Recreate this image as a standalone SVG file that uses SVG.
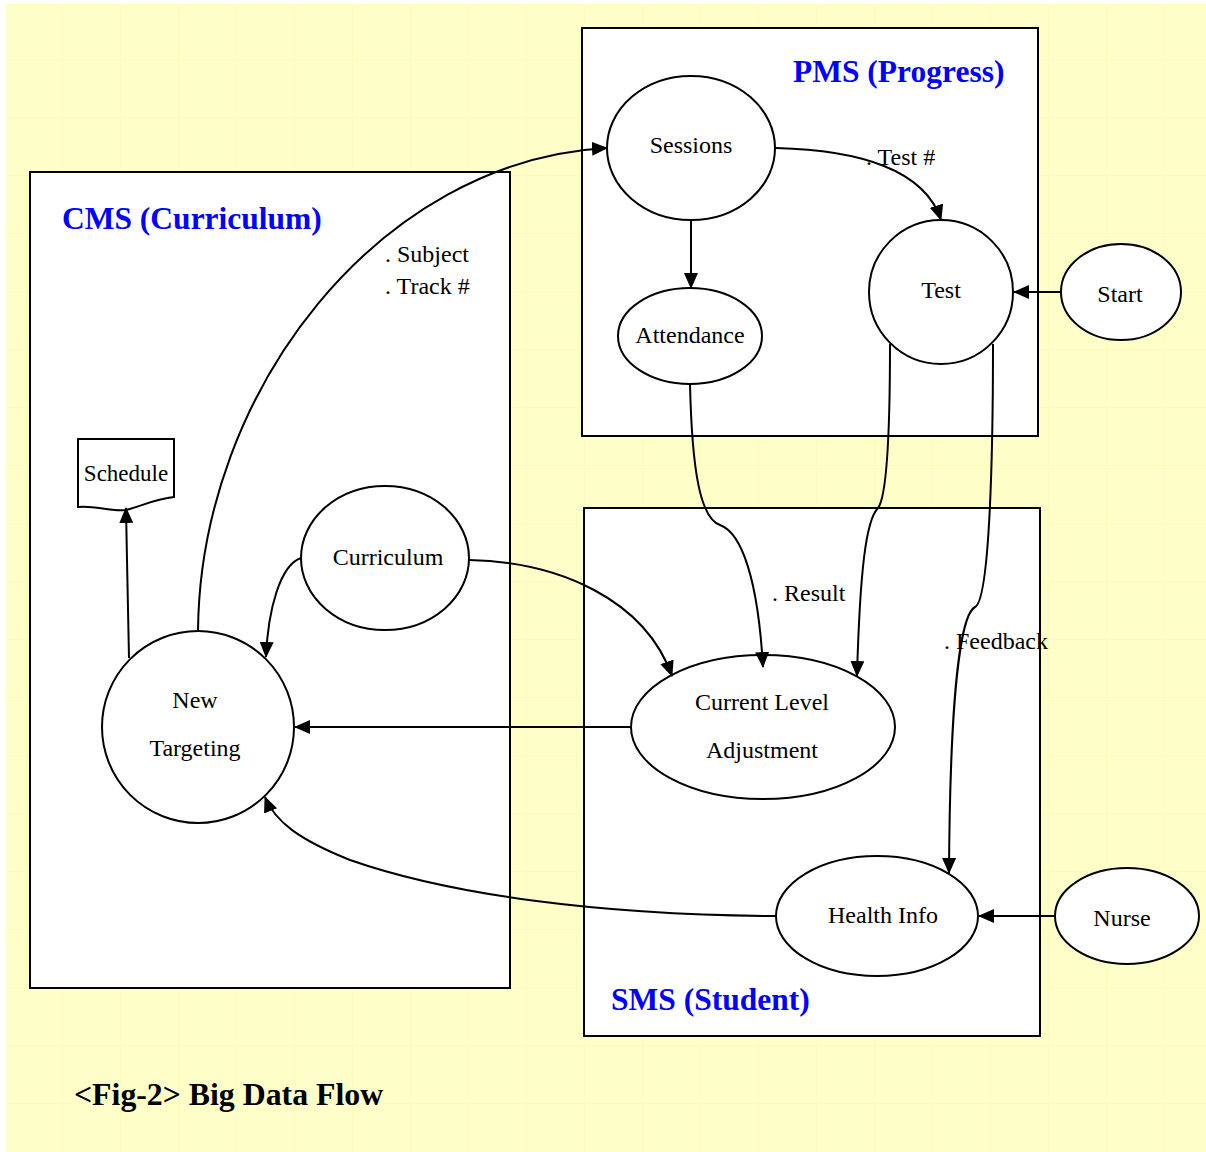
<svg xmlns="http://www.w3.org/2000/svg" width="1206" height="1152" viewBox="0 0 1206 1152">
<style>
.box{fill:#fff;stroke:#000;stroke-width:2}
.nd{fill:#fff;stroke:#000;stroke-width:2}
.t{font-family:"Liberation Serif",serif;font-size:24px;fill:#000;text-anchor:middle}
.lb{font-family:"Liberation Serif",serif;font-size:24px;fill:#000}
.title{font-family:"Liberation Serif",serif;font-size:31.5px;font-weight:bold;fill:#0000ff}
.cap{font-family:"Liberation Serif",serif;font-size:31.8px;font-weight:bold;fill:#000}
.c{fill:none;stroke:#000;stroke-width:2;marker-end:url(#ah)}
</style>
<defs>
<pattern id="grid" width="58" height="58" patternUnits="userSpaceOnUse" x="5" y="2">
<rect width="58" height="58" fill="#fefec9"/>
<path d="M58,0 V58 M0,58 H58" stroke="#fafab0" stroke-width="1" fill="none"/>
</pattern>
<marker id="ah" markerWidth="16" markerHeight="14" refX="15" refY="7" orient="auto" markerUnits="userSpaceOnUse">
<path d="M0,0 L16,7 L0,14 Z" fill="#000"/>
</marker>
</defs>
<rect width="1206" height="1152" fill="#fff"/>
<rect x="6" y="4" width="1200" height="1148" fill="url(#grid)"/>

<g id="cms-box"><rect class="box" x="30" y="172" width="480" height="816"/>
<text class="title" x="62" y="229">CMS (Curriculum)</text></g>
<g id="pms-box"><rect class="box" x="582" y="28" width="456" height="408"/>
<text class="title" x="793" y="82">PMS (Progress)</text></g>
<g id="sms-box"><rect class="box" x="584" y="508" width="456" height="528"/>
<text class="title" x="611" y="1010">SMS (Student)</text></g>

<g id="sessions"><ellipse class="nd" cx="691" cy="148" rx="84" ry="72"/><text class="t" x="691" y="153">Sessions</text></g>
<g id="attendance"><ellipse class="nd" cx="690" cy="336" rx="72" ry="48"/><text class="t" x="690" y="343">Attendance</text></g>
<g id="test"><circle class="nd" cx="941" cy="292" r="72"/><text class="t" x="941" y="298">Test</text></g>
<g id="start"><ellipse class="nd" cx="1121" cy="292" rx="60" ry="48"/><text class="t" x="1120" y="302">Start</text></g>
<g id="schedule"><path class="nd" d="M78,439 H174 V497 C155,499 145,505 126,510 C110,512 95,505 78,507 Z"/><text class="t" x="126" y="481" style="font-size:23px">Schedule</text></g>
<g id="curriculum"><ellipse class="nd" cx="385" cy="558" rx="84" ry="72"/><text class="t" x="388" y="565">Curriculum</text></g>
<g id="new-targeting"><circle class="nd" cx="198" cy="727" r="96"/><text class="t" x="195" y="708">New</text><text class="t" x="195" y="756">Targeting</text></g>
<g id="current-level"><ellipse class="nd" cx="763" cy="727" rx="132" ry="72"/><text class="t" x="762" y="710">Current Level</text><text class="t" x="762" y="758">Adjustment</text></g>
<g id="health-info"><ellipse class="nd" cx="877" cy="916" rx="101" ry="60"/><text class="t" x="883" y="923">Health Info</text></g>
<g id="nurse"><ellipse class="nd" cx="1127" cy="916" rx="72" ry="48"/><text class="t" x="1122" y="926">Nurse</text></g>

<g id="connectors">
<path class="c" d="M198,631 C200,390 380,160 607,148"/>
<path class="c" d="M776,148 C860,150 925,170 941,220"/>
<path class="c" d="M691,220 L691,288"/>
<path class="c" d="M690,384 C692,470 700,518 720,525 C742,533 758,580 763,667"/>
<path class="c" d="M890,344 C890,420 888,495 878,508 C866,520 860,570 857,676"/>
<path class="c" d="M993,344 C993,450 990,600 975,607 C960,615 950,700 949,873"/>
<path class="c" d="M1061,292 L1014,292"/>
<path class="c" d="M1055,916 L979,916"/>
<path class="c" d="M301,558 C280,565 268,610 266,657"/>
<path class="c" d="M469,560 C560,562 645,600 672,676"/>
<path class="c" d="M631,727 L295,727"/>
<path class="c" d="M776,916 C600,915 450,895 350,860 C300,840 275,822 265,797"/>
<path class="c" d="M129,658 L127,560 L126,508"/>
<text class="lb" x="385" y="262">. Subject</text>
<text class="lb" x="385" y="294">. Track #</text>
<text class="lb" x="866" y="165">. Test #</text>
<text class="lb" x="772" y="601">. Result</text>
<text class="lb" x="944" y="649">. Feedback</text>
</g>

<text class="cap" x="74" y="1105">&lt;Fig-2&gt; Big Data Flow</text>
</svg>
